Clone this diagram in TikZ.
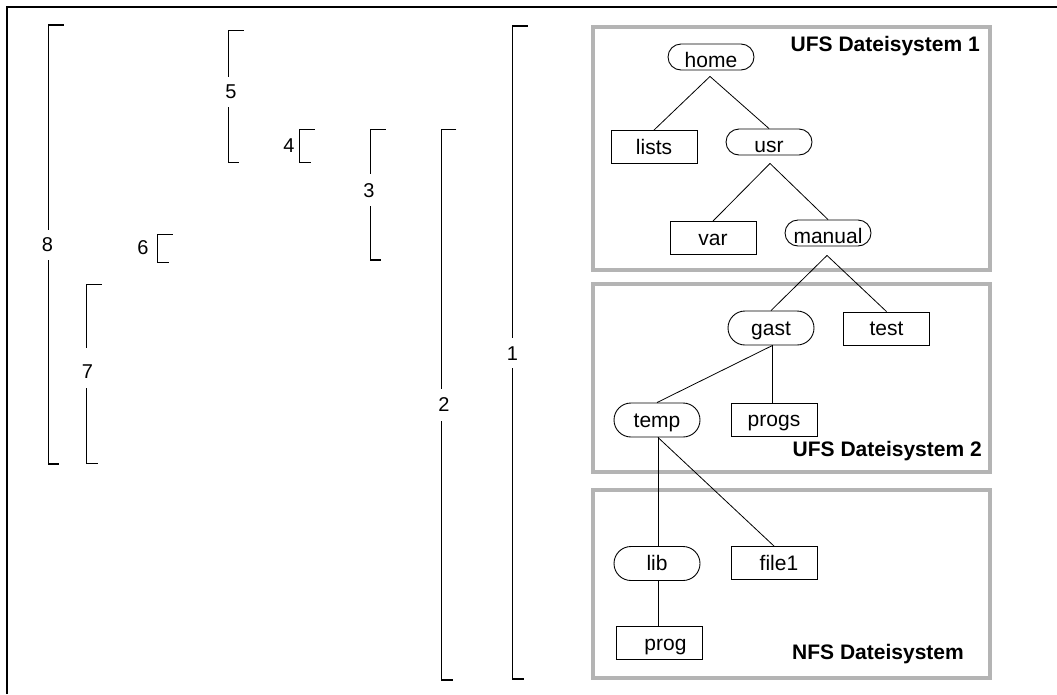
\documentclass[tikz,border=0pt]{standalone}
\usepackage{fontspec}
\setmainfont{Liberation Sans}
\definecolor{panelgray}{RGB}{180,180,180}
\newcommand\nodefnt{\fontsize{21}{24}\selectfont}
\newcommand\numfnt{\fontsize{20}{24}\selectfont}
\newcommand\titlefnt{\fontsize{21}{24}\selectfont\bfseries}
\begin{document}
\begin{tikzpicture}[x=1pt,y=-1pt,
  frame/.style={line width=1.2pt,black},
  brk/.style={line width=1.2pt,black},
  panel/.style={draw=panelgray,line width=3.5pt},
  box/.style={draw,line width=0.9pt,minimum width=86pt,minimum height=33pt,inner sep=0pt,font=\nodefnt,text height=14pt,text depth=0pt},
  pillA/.style={box,rounded corners=13pt,minimum height=26pt,text height=20pt},
  pillB/.style={box,rounded corners=17pt,minimum height=34pt,text height=14pt},
  edge/.style={line width=0.8pt},
  num/.style={font=\numfnt,inner sep=0pt},
  title/.style={font=\titlefnt,inner sep=0pt,anchor=base east}]
\useasboundingbox[fill=white] (0,0) rectangle (1057,694);
% outer frame
\draw[frame] (7,694) -- (7,7) -- (1057,7);
% brackets
\draw[brk] (63.6,25) -- (48.2,25) -- (48.2,230);
\draw[brk] (48.2,260) -- (48.2,464) -- (59,464);
\node[num] (n8) at (47.5,245) {8};
\draw[brk] (243.6,30.3) -- (228.6,30.3) -- (228.6,77);
\draw[brk] (228.6,107) -- (228.6,162.7) -- (239,162.7);
\node[num] (n5) at (231,92) {5};
\draw[brk] (314.6,129.3) -- (299.3,129.3) -- (299.3,162.7) -- (310.7,162.7);
\node[num] (n4) at (289,146) {4};
\draw[brk] (385.7,129.3) -- (370.7,129.3) -- (370.7,174);
\draw[brk] (370.7,206) -- (370.7,260) -- (381,260);
\node[num] (n3) at (369,191) {3};
\draw[brk] (172.5,234.3) -- (157.5,234.3) -- (157.5,262.3) -- (168.6,262.3);
\node[num] (n6) at (143,248) {6};
\draw[brk] (101.8,284.3) -- (86.8,284.3) -- (86.8,348);
\draw[brk] (86.8,388) -- (86.8,463.3) -- (97.5,463.3);
\node[num] (n7) at (87.5,372) {7};
\draw[brk] (456.4,129.3) -- (441.8,129.3) -- (441.8,389);
\draw[brk] (441.8,421) -- (441.8,680) -- (453,680);
\node[num] (n2) at (444,405) {2};
\draw[brk] (527.5,26) -- (512.5,26) -- (512.5,338);
\draw[brk] (512.5,368) -- (512.5,679) -- (524,679);
\node[num] (n1) at (512.5,354) {1};
% panels
\draw[panel] (593,27) rectangle (990,270);
\draw[panel] (593,284) rectangle (990,472);
\draw[panel] (593,490) rectangle (990,678);
\node[title] (t1) at (980,51) {UFS Dateisystem 1};
\node[title] (t2) at (982,456) {UFS Dateisystem 2};
\node[title] (t3) at (964,659) {NFS Dateisystem};
% nodes
\node[pillA] (home) at (711,57) {home};
\node[box] (lists) at (654,147) {lists};
\node[pillA] (usr) at (769,142) {usr};
\node[box] (var) at (713,238) {var};
\node[pillA] (manual) at (828,233) {manual};
\node[pillB] (gast) at (771,328) {gast};
\node[box] (test) at (886.5,328.5) {test};
\node[pillB] (temp) at (657,420) {temp};
\node[box] (progs) at (774,419.5) {progs};
\node[pillB] (lib) at (657,563.5) {lib};
\node[box] (file1) at (774,563) {\hspace*{10pt}file1};
\node[box] (prog) at (659.5,643) {\hspace*{12pt}prog};
% connectors
\draw[edge] ([xshift=-1pt,yshift=-6pt]home.south) -- (lists.north);
\draw[edge] ([xshift=-1pt,yshift=-6pt]home.south) -- (usr.north);
\draw[edge] ([xshift=1pt,yshift=-8pt]usr.south) -- (var.north);
\draw[edge] ([xshift=1pt,yshift=-8pt]usr.south) -- (manual.north);
\draw[edge] ([xshift=-1pt,yshift=-9pt]manual.south) -- (gast.north);
\draw[edge] ([xshift=-1pt,yshift=-9pt]manual.south) -- (test.north);
\draw[edge] ([xshift=1.5pt]gast.south) -- (temp.north);
\draw[edge] ([xshift=1.5pt]gast.south) -- ([xshift=1.5pt]gast.south |- progs.north);
\draw[edge] ([xshift=1pt]temp.south) -- ([xshift=1pt]temp.south |- lib.north);
\draw[edge] ([xshift=1pt]temp.south) -- (file1.north);
\draw[edge] ([xshift=1pt]lib.south) -- ([xshift=1pt]lib.south |- prog.north);
\end{tikzpicture}
\end{document}
